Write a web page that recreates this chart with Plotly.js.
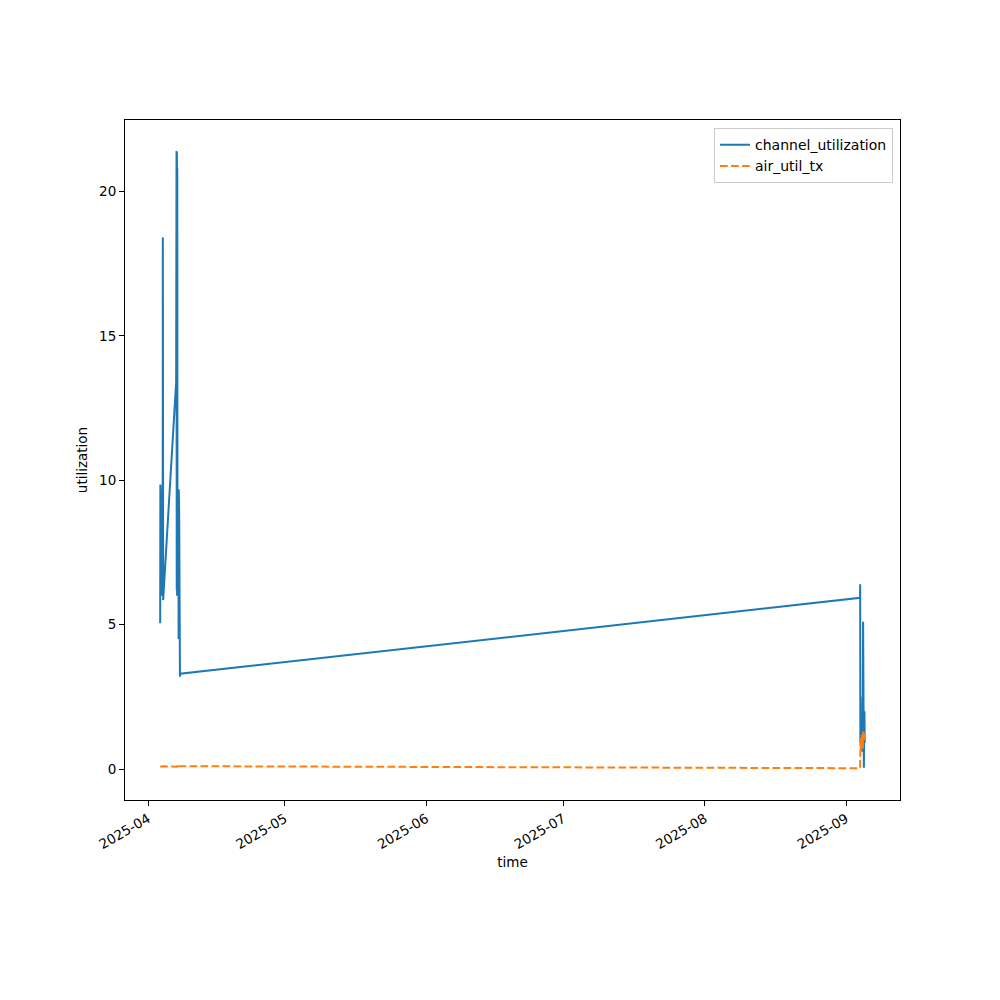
<!DOCTYPE html>
<html>
<head>
<meta charset="utf-8">
<script src="https://cdn.plot.ly/plotly-3.0.1.min.js"></script>
<style>html,body{margin:0;padding:0;background:#fff;}#chart{width:1000px;height:1000px;}</style>
</head>
<body>
<div id="chart"></div>
<script>
const chanTimes = [
  "2025-04-03 16:00","2025-04-03 17:00","2025-04-03 18:30","2025-04-03 20:00","2025-04-03 21:30",
  "2025-04-03 23:00","2025-04-04 01:00","2025-04-04 03:00","2025-04-04 05:00","2025-04-04 06:00",
  "2025-04-04 06:40","2025-04-04 07:10","2025-04-04 07:40",
  "2025-04-07 04:00","2025-04-07 06:00","2025-04-07 07:00","2025-04-07 08:00","2025-04-07 09:00",
  "2025-04-07 10:00","2025-04-07 11:00","2025-04-07 16:00","2025-04-07 17:00","2025-04-07 18:00",
  "2025-04-07 19:00","2025-04-07 20:00","2025-04-08 00:00","2025-04-08 02:00",
  "2025-09-04 01:00","2025-09-04 01:30","2025-09-04 02:30","2025-09-04 04:00","2025-09-04 05:30",
  "2025-09-04 07:00","2025-09-04 09:00","2025-09-04 11:00","2025-09-04 13:00","2025-09-04 15:00",
  "2025-09-04 17:00","2025-09-04 18:00","2025-09-04 19:30","2025-09-04 21:00","2025-09-04 22:30",
  "2025-09-05 00:00","2025-09-05 01:30"
];
const chanValues = [
  5.05, 9.85, 6.2, 9.5, 6.4,
  9.0, 6.0, 8.5, 6.3, 18.4,
  6.1, 12.0, 5.85,
  13.4, 21.4, 6.2, 21.35, 6.0,
  20.8, 6.5, 9.7, 4.5, 9.65,
  5.2, 8.8, 3.2, 3.3,
  5.93, 6.4, 0.9, 2.5, 0.7,
  1.6, 0.9, 1.8, 0.6, 1.5,
  5.1, 0.8, 2.3, 0.05, 1.4,
  2.0, 0.9
];
const airTimes = [
  "2025-04-03 16:00","2025-04-04 07:30","2025-04-07 09:00","2025-04-07 18:00","2025-04-07 20:00",
  "2025-04-08 02:00","2025-09-04 01:00","2025-09-04 02:30","2025-09-04 04:00","2025-09-04 06:00",
  "2025-09-04 09:00","2025-09-04 12:00","2025-09-04 15:00","2025-09-04 18:00","2025-09-04 21:00",
  "2025-09-05 00:00","2025-09-05 01:30"
];
const airValues = [
  0.08, 0.1, 0.08, 0.18, 0.1,
  0.1, 0.03, 0.7, 1.1, 0.6,
  0.9, 1.2, 0.7, 1.3, 1.0,
  1.25, 1.1
];
const xTickVals = ["2025-04-01","2025-05-01","2025-06-01","2025-07-01","2025-08-01","2025-09-01"];
const xTickText = ["2025-04","2025-05","2025-06","2025-07","2025-08","2025-09"];
const yTickVals = [0,5,10,15,20];

const traces = [
  {x: chanTimes, y: chanValues, type: "scatter", mode: "lines", name: "channel_utilization",
   line: {color: "#1f77b4", width: 2}},
  {x: airTimes, y: airValues, type: "scatter", mode: "lines", name: "air_util_tx",
   line: {color: "#ff7f0e", width: 2, dash: "7.7px,3.3px"}}
];
const axisCommon = {
  showline: true, mirror: true, linecolor: "#000", linewidth: 1,
  showgrid: false, zeroline: false, ticks: "outside", ticklen: 5, tickwidth: 1, tickcolor: "#000",
  tickfont: {family: "DejaVu Sans", size: 13.5, color: "#000"}
};
const layout = {
  width: 1000, height: 1000,
  margin: {l: 125, r: 100, t: 120, b: 200},
  paper_bgcolor: "#fff", plot_bgcolor: "#fff",
  font: {family: "DejaVu Sans", size: 13.5, color: "#000"},
  xaxis: Object.assign({}, axisCommon, {
    type: "date", range: ["2025-03-26 23:00", "2025-09-12 19:00"],
    tickmode: "array", tickvals: xTickVals, ticktext: xTickText, tickangle: -30,
    title: {text: "time", font: {family: "DejaVu Sans", size: 13.5}, standoff: 6}
  }),
  yaxis: Object.assign({}, axisCommon, {
    range: [-1.07, 22.47], tickmode: "array", tickvals: yTickVals,
    title: {text: "utilization", font: {family: "DejaVu Sans", size: 13.5}, standoff: 8}
  }),
  showlegend: true,
  legend: {x: 0.991, y: 0.988, xanchor: "right", yanchor: "top",
    bgcolor: "rgba(255,255,255,0.8)", bordercolor: "#cccccc", borderwidth: 1,
    font: {family: "DejaVu Sans", size: 14}}
};
Plotly.newPlot("chart", traces, layout, {displayModeBar: false});
</script>
</body>
</html>
